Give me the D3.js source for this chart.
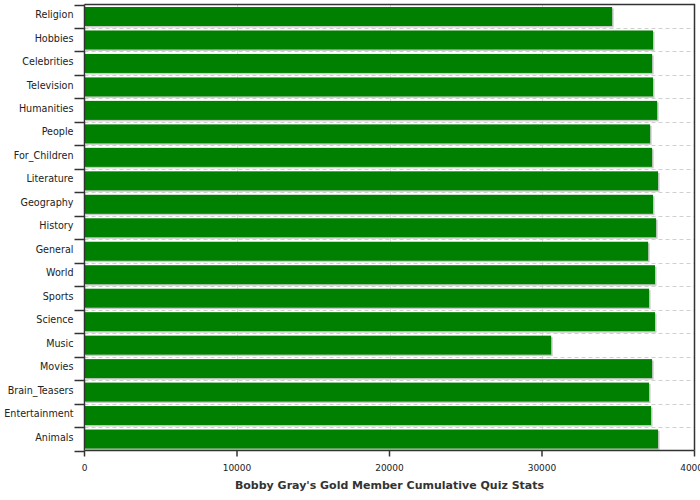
<!DOCTYPE html>
<html><head><meta charset="utf-8">
<script src="https://cdn.jsdelivr.net/npm/d3@7"></script>
<style>body{margin:0;background:#fff;}svg{display:block;font-family:"DejaVu Sans",sans-serif;}</style>
</head><body><svg id="c" width="700" height="500"></svg>
<script>
const categories = ["Religion","Hobbies","Celebrities","Television","Humanities","People","For_Children","Literature","Geography","History","General","World","Sports","Science","Music","Movies","Brain_Teasers","Entertainment","Animals"];
const values = [34600,37280,37220,37280,37550,37090,37220,37610,37280,37480,36960,37410,37020,37410,30600,37220,37020,37150,37610];
const xTicks = [0,10000,20000,30000,40000];
const title = "Bobby Gray's Gold Member Cumulative Quiz Stats";

const svg = d3.select("#c");
const m = {l:84.5, r:694.5, t:4.5, b:450.5};
const x = d3.scaleLinear().domain([0,40000]).range([m.l, m.r]);
const y = d3.scaleBand().domain(categories).range([m.t, m.b]);

// vertical grid
svg.append("g").selectAll("line").data(xTicks.slice(1,-1)).join("line")
  .attr("x1", d=>Math.round(x(d))+0.5).attr("x2", d=>Math.round(x(d))+0.5)
  .attr("y1", m.t).attr("y2", m.b).attr("stroke", "#dddddd");
// horizontal dashed grid at band boundaries
svg.append("g").selectAll("line").data(categories.slice(1)).join("line")
  .attr("x1", m.l).attr("x2", m.r)
  .attr("y1", d=>Math.round(y(d))+0.5).attr("y2", d=>Math.round(y(d))+0.5)
  .attr("stroke", "#d0d0d0").attr("stroke-dasharray", "4,3");

// shadows
svg.append("g").selectAll("rect").data(values).join("rect")
  .attr("x", m.l + 1.5).attr("y", (d,i)=>y(categories[i]) + 4)
  .attr("width", d=>x(d)-m.l).attr("height", 19).attr("fill", "#c8c8c8");
// bars
svg.append("g").selectAll("rect").data(values).join("rect")
  .attr("x", m.l).attr("y", (d,i)=>y(categories[i]) + 2.5)
  .attr("width", d=>x(d)-m.l).attr("height", 19).attr("fill", "#008000");

// frame top/right
svg.append("path").attr("d", `M${m.l},${m.t}H${m.r}V${m.b}`).attr("fill","none").attr("stroke","#333").attr("stroke-width",1.5);

// y axis
const yg = svg.append("g");
yg.append("line").attr("x1", m.l).attr("x2", m.l).attr("y1", m.t).attr("y2", m.b).attr("stroke","#333").attr("stroke-width",1.5);
const bounds = categories.map(c=>y(c)).concat([m.b]);
yg.selectAll("line.t").data(bounds).join("line").attr("class","t")
  .attr("x1", m.l-10).attr("x2", m.l).attr("y1", d=>Math.round(d)+0.5).attr("y2", d=>Math.round(d)+0.5)
  .attr("stroke","#333").attr("stroke-width",1.5);
yg.selectAll("text").data(categories).join("text")
  .attr("x", m.l-11).attr("y", d=>y(d)+y.bandwidth()/2 - 1.5).attr("dy","0.35em")
  .attr("text-anchor","end").attr("font-size","9.6px").attr("fill","#222").text(d=>d);

// x axis
const xg = svg.append("g");
xg.append("line").attr("x1", m.l).attr("x2", m.r).attr("y1", m.b).attr("y2", m.b).attr("stroke","#333").attr("stroke-width",1.5);
xg.selectAll("line.t").data(xTicks).join("line").attr("class","t")
  .attr("x1", d=>x(d)).attr("x2", d=>x(d)).attr("y1", m.b).attr("y2", m.b+6)
  .attr("stroke","#333").attr("stroke-width",1.5);
xg.selectAll("text").data(xTicks).join("text")
  .attr("x", d=>x(d)).attr("y", m.b+20).attr("text-anchor","middle")
  .attr("font-size","9px").attr("fill","#222").text(d=>d);

svg.append("text").attr("x", (m.l+m.r)/2).attr("y", 489).attr("text-anchor","middle")
  .attr("font-size","11px").attr("font-weight","bold").attr("fill","#333").text(title);
</script></body></html>
